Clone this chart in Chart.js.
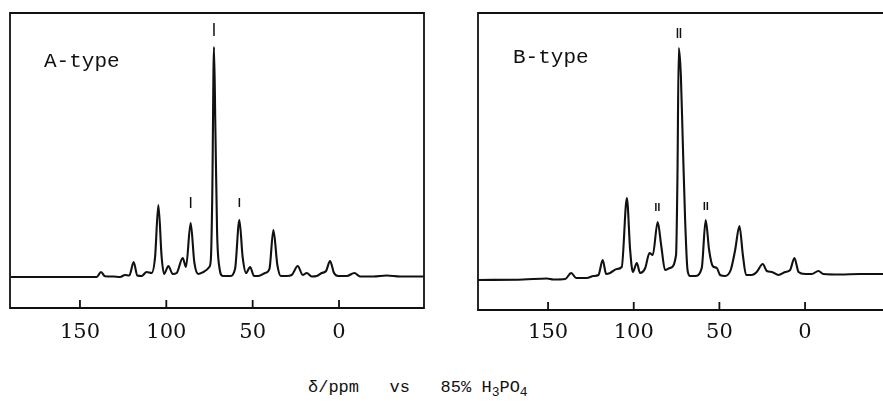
<!DOCTYPE html>
<html>
<head>
<meta charset="utf-8">
<script src="https://cdn.jsdelivr.net/npm/chart.js@4/dist/chart.umd.min.js"></script>
<style>
  html, body { margin: 0; padding: 0; background: #fff; overflow: hidden; width: 883px; height: 406px; }
  .panel { position: absolute; top: 0; }
  .tag { position: absolute; font: 21px/21px "Liberation Mono", monospace; color: #111; }
  #title { position: absolute; left: 308px; top: 379px; font: 17px/17px "Liberation Mono", monospace; color: #111; white-space: pre; }
  #title sub { font-size: 13px; vertical-align: -4px; line-height: 0; }
</style>
</head>
<body>
<div class="panel" style="left:0;width:440px;height:350px"><canvas id="chartA" width="440" height="350"></canvas></div>
<div class="panel" style="left:440px;width:443px;height:350px"><canvas id="chartB" width="443" height="350"></canvas></div>
<div class="tag" style="left:44px;top:51px">A-type</div>
<div class="tag" style="left:513px;top:47px">B-type</div>
<div id="title">δ/ppm   vs   85% H<sub>3</sub>PO<sub>4</sub></div>
<script>
// ===== Data =====
const tickValues = [150, 100, 50, 0];

// A-type: chemical shift (ppm) and intensity
const ppmA = [190, 145, 140.3, 137.8, 135.5, 130.7, 126.8, 123.9, 121.4, 118.9, 116.8, 114.3, 111.4, 108.5,
  106.5, 104.6, 102.7, 101.3, 98.8, 96.3, 94, 90.5, 88.6, 85.9, 83.8, 81.5, 78.5, 75.1, 74.2, 73.4, 72.4,
  71.6, 70.6, 69.3, 67.3, 63.1, 60.2, 57.7, 55.8, 53.8, 51.5, 49.2, 46.7, 42.8, 40.3, 38, 35.7, 33.7, 30.3,
  27.4, 23.9, 21, 18.7, 15.8, 12.9, 10, 7.5, 5.2, 2.9, 0.4, -4.5, -8.9, -12.2, -19.9, -27.6, -35.4, -49];
const intA = [0, 0, 0, 5, 0.7, 0.5, 0, 2, 1.5, 15, 1.5, 1, 5, 4,
  20, 72, 20, 3, 11, 3, 4, 19, 10, 54, 15, 3, 5, 10, 18, 80, 230,
  150, 45, 10, 1, 1, 8, 57, 20, 4, 10, 1, 1, 4, 8, 47, 12, 1, 1,
  2, 11, 2, 4, 0.5, 1, 4, 6, 16, 4, 1, 1, 4, 0.5, 0.5, 1.5, 0.5, 0.5];

// B-type
const ppmB = [191, 164.4, 150.7, 146.9, 140, 136.5, 133.6, 127.4, 123.5, 120.6, 118.1, 116.1, 113.8, 109.9,
  107, 104, 102.1, 100.5, 98.2, 96.3, 93.3, 90.8, 88.9, 86, 84, 81.7, 78.8, 75.3, 74.5, 73.7, 72.5, 71.4,
  70, 68.6, 67.1, 64.2, 60.3, 58, 56, 53.9, 51.5, 49.6, 46.7, 43.4, 40.8, 38.3, 36.3, 34.4, 31.1, 28.2,
  24.7, 22.3, 19.4, 15.5, 11.6, 8.7, 6.2, 3.8, 0, -3.9, -7.8, -10.7, -20.5, -32.1, -46];
const intB = [0, 0.5, 1.5, 0.5, 1, 7, 2, 2, 4, 5, 20, 6, 7, 11,
  13, 82, 30, 8, 17, 7, 12, 27, 25, 58, 35, 10, 12, 25, 100, 232, 205, 140,
  60, 10, 4, 4, 12, 60, 30, 14, 12, 5, 4, 10, 30, 54, 25, 5, 5, 8,
  16, 9, 8, 5, 8, 10, 22, 8, 6, 6, 9, 6, 5.5, 6, 6];

// peak markers: shift, top and bottom of the mark (intensity units)
const markPpmA = [85.9, 72.4, 57.7];
const markTopA = [80, 254, 79];
const markBotA = [69, 241, 70];
const markPpmB = [86.2, 73.6, 57.9];
const markTopB = [77, 252, 78];
const markBotB = [69, 242, 70];

// ===== Frame, inward ticks, labels and markers =====
const framePlugin = {
  id: 'frame',
  afterDraw(chart, args, opts) {
    const { ctx, chartArea: a, scales: { x, y } } = chart;
    ctx.save();
    ctx.strokeStyle = '#111';
    ctx.fillStyle = '#111';
    ctx.lineWidth = 1.8;
    ctx.beginPath();
    if (opts.closed) {
      ctx.rect(a.left, a.top, a.right - a.left, a.bottom - a.top);
    } else {
      ctx.moveTo(a.right, a.top);
      ctx.lineTo(a.left, a.top);
      ctx.lineTo(a.left, a.bottom);
      ctx.lineTo(a.right, a.bottom);
    }
    tickValues.forEach(v => {
      const px = x.getPixelForValue(v);
      ctx.moveTo(px, a.bottom);
      ctx.lineTo(px, a.bottom - 8);
    });
    ctx.stroke();

    ctx.font = '21px "DejaVu Serif", serif';
    ctx.textAlign = 'center';
    ctx.textBaseline = 'alphabetic';
    tickValues.forEach(v => ctx.fillText(String(v), x.getPixelForValue(v), 338));

    ctx.lineWidth = 1.5;
    ctx.beginPath();
    opts.marks.ppm.forEach((p, i) => {
      const px = x.getPixelForValue(p);
      const t = y.getPixelForValue(opts.marks.top[i]);
      const b = y.getPixelForValue(opts.marks.bot[i]);
      const offs = opts.marks.double ? [-1.5, 1.5] : [0];
      offs.forEach(o => {
        ctx.moveTo(px + o, t);
        ctx.lineTo(px + o, b);
      });
    });
    ctx.stroke();
    ctx.restore();
  }
};

function makeSpectrum(id, ppm, vals, xRange, yRange, padding, frameOpts) {
  return new Chart(document.getElementById(id), {
    type: 'line',
    data: {
      datasets: [{
        data: ppm.map((p, i) => ({ x: p, y: vals[i] })),
        borderColor: '#111',
        borderWidth: 2.1,
        pointRadius: 0,
        cubicInterpolationMode: 'monotone',
        fill: false
      }]
    },
    options: {
      responsive: false,
      animation: false,
      devicePixelRatio: 1,
      layout: { padding },
      plugins: { legend: { display: false }, tooltip: { enabled: false }, frame: frameOpts },
      scales: {
        x: { type: 'linear', reverse: true, min: xRange[0], max: xRange[1], display: false },
        y: { type: 'linear', min: yRange[0], max: yRange[1], display: false }
      }
    },
    plugins: [framePlugin]
  });
}

makeSpectrum('chartA', ppmA, intA, [-49.2, 190.5], [-31, 264],
  { left: 10, top: 13, right: 16, bottom: 42 },
  { closed: true, marks: { ppm: markPpmA, top: markTopA, bot: markBotA, double: false } });

makeSpectrum('chartB', ppmB, intB, [-45.5, 190.9], [-30, 267],
  { left: 38, top: 13, right: 0, bottom: 40 },
  { closed: false, marks: { ppm: markPpmB, top: markTopB, bot: markBotB, double: true } });
</script>
</body>
</html>
